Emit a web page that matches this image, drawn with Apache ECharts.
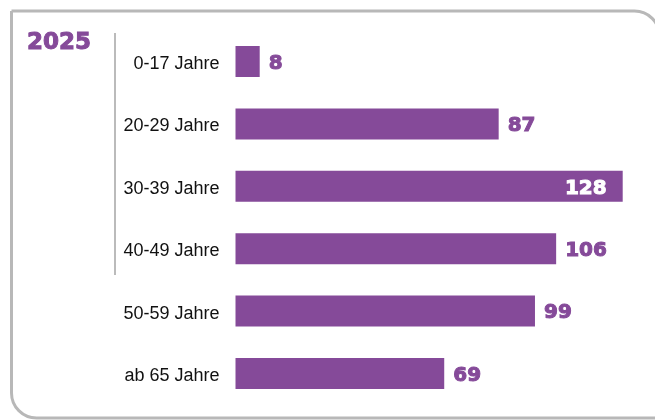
<!DOCTYPE html>
<html>
<head>
<meta charset="utf-8">
<script src="https://cdn.jsdelivr.net/npm/echarts@6/dist/echarts.min.js"></script>
<style>
html,body{margin:0;padding:0;background:#fff;}
#chart{width:655px;height:420px;}
</style>
</head>
<body>
<div id="chart"></div>
<script>
const yearLabel = '2025';
const categories = ['0-17 Jahre', '20-29 Jahre', '30-39 Jahre', '40-49 Jahre', '50-59 Jahre', 'ab 65 Jahre'];
const values = [8, 87, 128, 106, 99, 69];

const purple = '#854A99';
const maxVal = Math.max(...values);

const valueFont = {
  padding: [4, 0, 0, 0],
  fontFamily: 'DejaVu Sans, sans-serif',
  fontWeight: 'bold',
  fontSize: 20,
  textBorderWidth: 1
};

const chart = echarts.init(document.getElementById('chart'));
chart.setOption({
  animation: false,
  backgroundColor: '#fff',
  grid: { left: 235.5, right: 32.3, top: 30.3, bottom: 15.3 },
  xAxis: { type: 'value', min: 0, max: maxVal, show: false },
  yAxis: {
    type: 'category',
    data: categories,
    inverse: true,
    axisLine: { show: false },
    axisTick: { show: false },
    axisLabel: {
      margin: 16,
      formatter: '{a|{value}}',
      rich: {
        a: {
          padding: [5, 0, 0, 0],
          fontFamily: 'Liberation Sans, Arial, sans-serif',
          fontSize: 18,
          color: '#111'
        }
      }
    }
  },
  series: [{
    type: 'bar',
    barWidth: 31,
    itemStyle: { color: purple },
    label: {
      show: true,
      position: 'right',
      distance: 9,
      formatter: '{v|{c}}',
      rich: {
        v: Object.assign({ color: purple, textBorderColor: purple }, valueFont)
      }
    },
    data: values.map(v => v === maxVal ? {
      value: v,
      label: {
        position: 'insideRight',
        distance: 16,
        rich: { v: Object.assign({ color: '#fff', textBorderColor: '#fff' }, valueFont) }
      }
    } : v)
  }],
  graphic: [
    {
      type: 'rect',
      silent: true,
      shape: { x: 11.5, y: 11, width: 648, height: 407, r: [0, 25, 0, 25] },
      style: { fill: 'none', stroke: '#b8b8b8', lineWidth: 3 }
    },
    {
      type: 'line',
      silent: true,
      shape: { x1: 115, y1: 33, x2: 115, y2: 275 },
      style: { stroke: '#bbbbbb', lineWidth: 2 }
    },
    {
      type: 'text',
      silent: true,
      x: 27,
      y: 43,
      style: {
        text: yearLabel,
        fontFamily: 'DejaVu Sans, sans-serif',
        fontWeight: 'bold',
        fontSize: 23,
        fill: purple,
        stroke: purple,
        lineWidth: 1,
        verticalAlign: 'middle',
        align: 'left'
      }
    }
  ]
});
</script>
</body>
</html>
